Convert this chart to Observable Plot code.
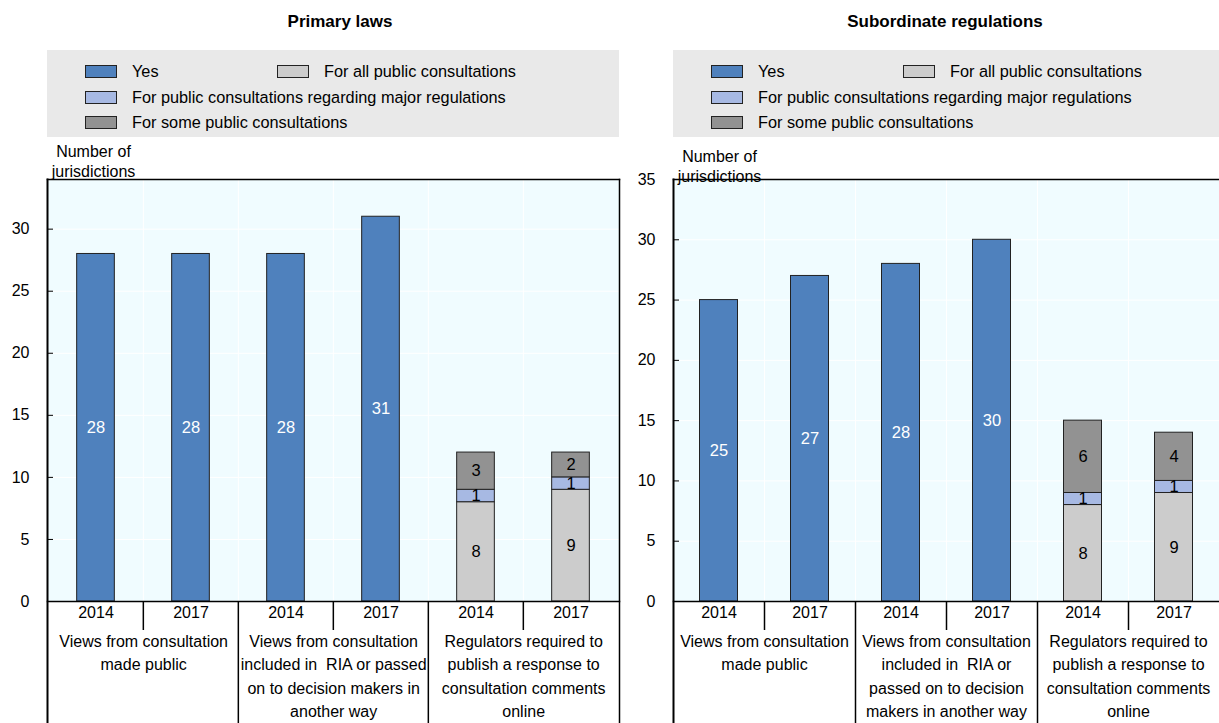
<!DOCTYPE html>
<html>
<head>
<meta charset="utf-8">
<script src="https://cdn.jsdelivr.net/npm/d3@7"></script>
<script src="https://cdn.jsdelivr.net/npm/@observablehq/plot@0.6"></script>
<style>
  body { margin: 0; background: #fff; font-family: "Liberation Sans Narrow", "Arial Narrow", "Liberation Sans", Arial, sans-serif; }
  #wrap { position: relative; width: 1219px; height: 723px; overflow: hidden; }
  .panel { position: absolute; top: 0; height: 723px; }
  .title { position: absolute; top: 12px; font-weight: bold; font-size: 17px; text-align: center; color: #000; }
  .legend { position: absolute; top: 50px; height: 87px; background: #e9e9e9; }
  .item { position: absolute; display: flex; align-items: center; font-size: 16.3px; color: #000; white-space: nowrap; height: 20px; }
  .sw { width: 30px; height: 11px; border: 1px solid #222; margin-right: 15px; }
  .chart { position: absolute; top: 137px; left: 0; }
</style>
</head>
<body>
<div id="wrap">
  <div id="left" class="panel" style="left:0;width:621px"></div>
  <div id="right" class="panel" style="left:621px;width:598px"></div>
</div>
<script>
// ---- data ----
const series = ["Yes", "For all public consultations", "For public consultations regarding major regulations", "For some public consultations"];
const seriesColors = ["#4f81bd", "#cccccc", "#a7b9e3", "#929292"];
const years = ["2014", "2017"];
const groupsLeft = [
  "Views from consultation\nmade public",
  "Views from consultation\nincluded in  RIA or passed\non to decision makers in\nanother way",
  "Regulators required to\npublish a response to\nconsultation comments\nonline"
];
const groupsRight = [
  "Views from consultation\nmade public",
  "Views from consultation\nincluded in  RIA or\npassed on to decision\nmakers in another way",
  "Regulators required to\npublish a response to\nconsultation comments\nonline"
];
// "Yes" values: group1 2014, 2017, group2 2014, 2017
const primaryYes = [28, 28, 28, 31];
const primaryAll = [8, 9];
const primaryMajor = [1, 1];
const primarySome = [3, 2];
const subordYes = [25, 27, 28, 30];
const subordAll = [8, 9];
const subordMajor = [1, 1];
const subordSome = [6, 4];
const primaryTicks = [0, 5, 10, 15, 20, 25, 30];
const subordTicks = [0, 5, 10, 15, 20, 25, 30, 35];
const yLabel = "Number of\njurisdictions";

// ---- build ----
const keys = [0, 1, 2].flatMap(g => years.map(y => `g${g} ${y}`));

function buildRows(yes, all, major, some) {
  const rows = [];
  yes.forEach((v, i) => rows.push({key: keys[i], series: series[0], value: v}));
  [all, major, some].forEach((arr, s) => arr.forEach((v, i) =>
    rows.push({key: keys[4 + i], series: series[s + 1], value: v})));
  return rows;
}

function drawLegend(container) {
  const lg = document.createElement("div");
  lg.className = "legend";
  container.appendChild(lg);
  const pos = [[38, 11], [230, 11], [38, 37], [38, 62]];
  series.forEach((s, i) => {
    const it = document.createElement("div");
    it.className = "item";
    it.style.left = pos[i][0] + "px";
    it.style.top = pos[i][1] + "px";
    const sw = document.createElement("div");
    sw.className = "sw";
    sw.style.background = seriesColors[i];
    it.appendChild(sw);
    const t = document.createElement("span");
    t.textContent = s;
    it.appendChild(t);
    lg.appendChild(it);
  });
  return lg;
}

function drawPanel(id, opts) {
  const el = document.getElementById(id);
  const {title, rows, groups, domainMax, ticks, width, marginLeft, marginRight, rightBorder, legendLeft, legendWidth, titleCenter, labelDy} = opts;
  const height = 586, marginTop = 42, marginBottom = 122;
  const plotW = width - marginLeft - marginRight;
  const plotH = height - marginTop - marginBottom;
  const bw = plotW / keys.length;
  const inset = (bw - 38) / 2;
  const fs = 16;

  const t = document.createElement("div");
  t.className = "title";
  t.textContent = title;
  t.style.left = (titleCenter - 150) + "px";
  t.style.width = "300px";
  el.appendChild(t);

  const lg = drawLegend(el);
  lg.style.left = legendLeft + "px";
  lg.style.width = legendWidth + "px";

  const groupData = groups.map((g, i) => ({key: keys[i * 2], label: g}));
  const yearData = keys.map(k => ({key: k, year: k.split(" ")[1]}));
  const yearSeps = [keys[1], keys[3], keys[5]];
  const groupSeps = [keys[2], keys[4]];
  const bg = "#f0fcff";

  const marks = [
    Plot.frame({fill: bg, stroke: null}),
    Plot.gridY(ticks, {stroke: "#ffffff", strokeOpacity: 1, strokeWidth: 1}),
    Plot.ruleX(keys.slice(1), {x: d => d, dx: -bw / 2, stroke: "#ffffff", strokeWidth: 1}),
    Plot.barY(rows, {x: "key", y: "value", fill: "series", stroke: "#222", strokeWidth: 1, insetLeft: inset, insetRight: inset}),
    Plot.text(rows, Plot.stackY({x: "key", y: "value", text: "value",
      fill: d => d.series === series[0] ? "#ffffff" : "#000000", fontSize: 16.5})),
    Plot.tickY(ticks, {y: d => d, insetRight: plotW - 6, stroke: "#000", strokeWidth: 1}),
    Plot.axisY(ticks, {tickSize: 0, tickPadding: 18, fontSize: fs, color: "#000", label: null}),
    Plot.frame({anchor: "top", stroke: "#000", strokeWidth: 1.5}),
    Plot.frame({anchor: "bottom", stroke: "#000", strokeWidth: 1.5}),
    Plot.frame({anchor: "left", stroke: "#000", strokeWidth: 2, insetBottom: -marginBottom}),
    Plot.ruleX(yearSeps, {x: d => d, dx: -bw / 2, stroke: "#000", strokeWidth: 1.5, insetTop: plotH, insetBottom: -29}),
    Plot.ruleX(groupSeps, {x: d => d, dx: -bw / 2, stroke: "#000", strokeWidth: 1.5, insetTop: plotH, insetBottom: -marginBottom}),
    Plot.text(yearData, {x: "key", text: "year", frameAnchor: "bottom", dy: 16, fontSize: fs, fill: "#000"}),
    Plot.text(groupData, {x: "key", text: "label", frameAnchor: "bottom", dx: bw / 2, dy: 29, lineAnchor: "top", lineHeight: 1.46, fontSize: fs, fill: "#000"}),
    Plot.text([yLabel], {text: d => d, frameAnchor: "top-left", dx: 46, dy: labelDy, lineAnchor: "bottom", textAnchor: "middle", lineHeight: 1.25, fontSize: fs, fill: "#000"})
  ];
  if (rightBorder) marks.push(Plot.frame({anchor: "right", stroke: "#000", strokeWidth: 1.5, insetBottom: -marginBottom}));

  const svg = Plot.plot({
    width, height, marginTop, marginBottom, marginLeft, marginRight,
    style: {fontFamily: '"Liberation Sans Narrow", "Arial Narrow", "Liberation Sans", Arial, sans-serif', background: "transparent", overflow: "visible"},
    x: {type: "band", domain: keys, padding: 0, axis: null},
    y: {domain: [0, domainMax], axis: null},
    color: {domain: series, range: seriesColors},
    marks
  });
  svg.classList.add("chart");
  el.appendChild(svg);
}

drawPanel("left", {
  title: "Primary laws",
  rows: buildRows(primaryYes, primaryAll, primaryMajor, primarySome),
  groups: groupsLeft, domainMax: 34, ticks: primaryTicks,
  width: 621, marginLeft: 47, marginRight: 2, rightBorder: true,
  legendLeft: 47, legendWidth: 572, titleCenter: 340, labelDy: -3
});
drawPanel("right", {
  title: "Subordinate regulations",
  rows: buildRows(subordYes, subordAll, subordMajor, subordSome),
  groups: groupsRight, domainMax: 35, ticks: subordTicks,
  width: 598, marginLeft: 52, marginRight: 0, rightBorder: false,
  legendLeft: 52, legendWidth: 546, titleCenter: 324, labelDy: 2
});
</script>
</body>
</html>
